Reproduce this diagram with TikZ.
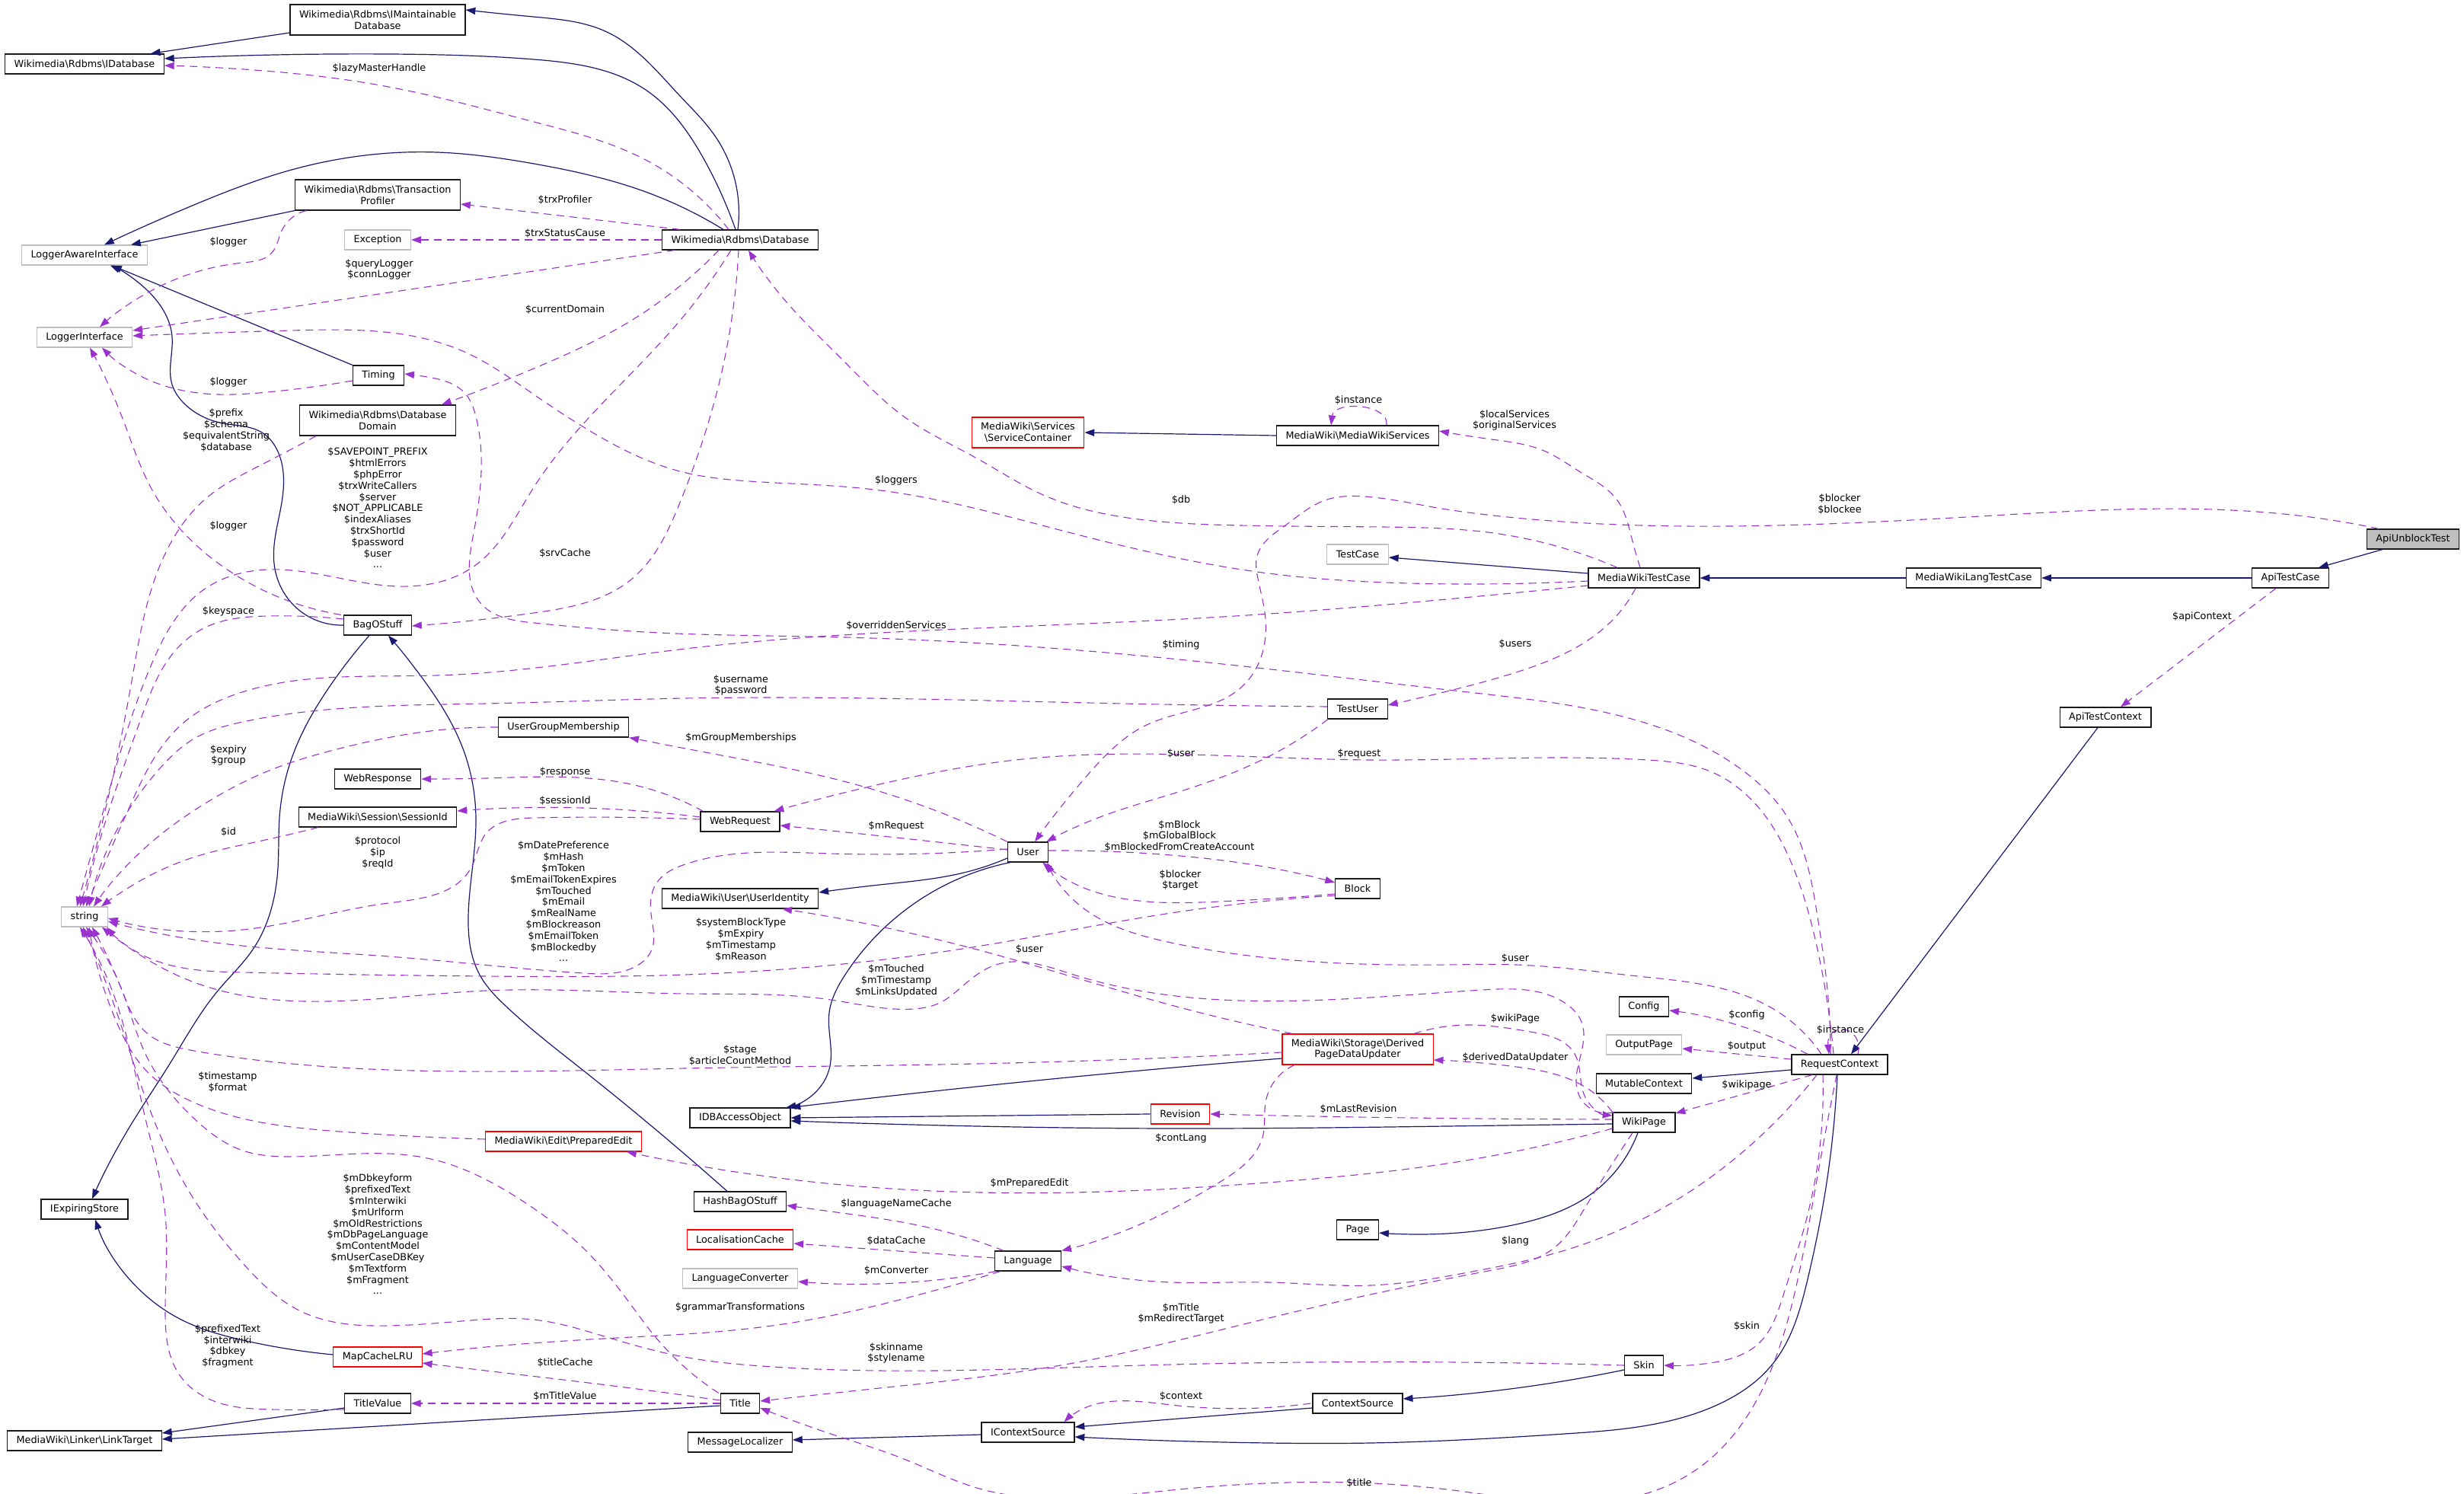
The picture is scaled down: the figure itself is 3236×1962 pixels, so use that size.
\documentclass[tikz,border=0pt]{standalone}
\usepackage{fontspec}
\setmainfont{DejaVu Sans}
\usetikzlibrary{arrows.meta,hobby}
\definecolor{inhc}{HTML}{191970}
\definecolor{depc}{HTML}{9A32CD}
\definecolor{grayb}{HTML}{BFBFBF}
\definecolor{bord}{HTML}{1A1A1A}
\newcommand\bsl{\textbackslash}
\begin{document}
\begin{tikzpicture}[x=0.5pt,y=-0.5pt,
  every node/.style={font=\fontsize{6.4}{7.4}\selectfont},
  cls/.style={draw=bord,line width=0.6pt,fill=white,rectangle,minimum height=13pt,inner xsep=6pt,inner ysep=0pt,align=center},
  cls2/.style={cls,minimum height=20pt},
  ext/.style={draw=grayb},
  trunc/.style={draw=red},
  lbl/.style={inner sep=0pt,align=center},
  inh/.style={draw=inhc,line width=0.6pt,-{Triangle[length=6.4pt,width=4.6pt]}},
  dep/.style={draw=depc,line width=0.55pt,dash pattern=on 5pt off 3.5pt,-{Triangle[length=6.4pt,width=4.6pt]}},
]
\useasboundingbox (0,0) rectangle (3236,1962);

% ---------------- nodes
\node[cls2] (imd) at (496,26) {Wikimedia\bsl Rdbms\bsl IMaintainable\\Database};
\node[cls] (idb) at (111,84) {Wikimedia\bsl Rdbms\bsl IDatabase};
\node[cls2] (tp) at (496,256) {Wikimedia\bsl Rdbms\bsl Transaction\\Profiler};
\node[cls,ext] (lai) at (111,335) {LoggerAwareInterface};
\node[cls,ext] (exc) at (496,315) {Exception};
\node[cls] (db) at (972,315) {Wikimedia\bsl Rdbms\bsl Database};
\node[cls,ext] (li) at (111,443) {LoggerInterface};
\node[cls] (timing) at (497,493) {Timing};
\node[cls2] (dd) at (496,552) {Wikimedia\bsl Rdbms\bsl Database\\Domain};
\node[cls] (bag) at (496,821) {BagOStuff};
\node[cls] (ugm) at (740,955) {UserGroupMembership};
\node[cls] (wresp) at (496,1023) {WebResponse};
\node[cls] (sid) at (496,1073) {MediaWiki\bsl Session\bsl SessionId};
\node[cls] (wreq) at (972,1079) {WebRequest};
\node[cls,ext] (str) at (111,1204) {string};
\node[cls] (uid) at (972,1180) {MediaWiki\bsl User\bsl UserIdentity};
\node[cls] (idbao) at (972,1468) {IDBAccessObject};
\node[cls,trunc] (pe) at (740,1499) {MediaWiki\bsl Edit\bsl PreparedEdit};
\node[cls] (hbag) at (972,1578) {HashBagOStuff};
\node[cls] (ies) at (111,1588) {IExpiringStore};
\node[cls,trunc] (lc) at (972,1628) {LocalisationCache};
\node[cls,ext] (lconv) at (972,1679) {LanguageConverter};
\node[cls,trunc] (mclru) at (496,1782) {MapCacheLRU};
\node[cls] (tv) at (496,1843) {TitleValue};
\node[cls] (title) at (972,1843) {Title};
\node[cls] (lt) at (111,1892) {MediaWiki\bsl Linker\bsl LinkTarget};
\node[cls] (ml) at (972,1894) {MessageLocalizer};
\node[cls2,trunc] (sc) at (1350,568) {MediaWiki\bsl Services\\\bsl ServiceContainer};
\node[cls] (mws) at (1783,572) {MediaWiki\bsl MediaWikiServices};
\node[cls,ext] (tc) at (1783,728) {TestCase};
\node[cls] (tu) at (1783,931) {TestUser};
\node[cls] (user) at (1350,1119) {User};
\node[cls] (block) at (1783,1167) {Block};
\node[cls2,trunc] (dpdu) at (1783,1378) {MediaWiki\bsl Storage\bsl Derived\\PageDataUpdater};
\node[cls,trunc] (rev) at (1550,1463) {Revision};
\node[cls] (page) at (1783,1615) {Page};
\node[cls] (lang) at (1350,1656) {Language};
\node[cls] (cs) at (1783,1843) {ContextSource};
\node[cls] (ics) at (1350,1881) {IContextSource};
\node[cls] (mwtc) at (2159,759) {MediaWikiTestCase};
\node[cls] (mwltc) at (2592,759) {MediaWikiLangTestCase};
\node[cls] (atctx) at (2765,942) {ApiTestContext};
\node[cls] (config) at (2159,1322) {Config};
\node[cls,ext] (op) at (2159,1372) {OutputPage};
\node[cls] (rc) at (2416,1398) {RequestContext};
\node[cls] (mc) at (2159,1423) {MutableContext};
\node[cls] (wp) at (2159,1474) {WikiPage};
\node[cls] (skin) at (2159,1793) {Skin};
\node[cls,fill=grayb] (aut) at (3169,708) {ApiUnblockTest};
\node[cls] (atc) at (3008,759) {ApiTestCase};

% ---------------- inheritance edges
\draw[inh] ([shift={(-3,0)}]db.north) to[curve through={(940,180) .. (893,126) .. (797,42) .. (700,22)}] ([shift={(0,-13)}]imd.east);
\draw[inh] ([shift={(0,17)}]imd.west) -- ([shift={(-18,0)}]idb.north east);
\draw[inh] ([shift={(-6,0)}]db.north) to[curve through={(925,210) .. (848,118) .. (701,78) .. (510,71)}] ([shift={(0,-7)}]idb.east);
\draw[inh] ([shift={(-22,0)}]db.north) to[curve through={(848,252) .. (701,215) .. (574,200) .. (383,223) .. (255,269)}] ([shift={(26,0)}]lai.north);
\draw[inh] (tp.south west) -- ([shift={(61,0)}]lai.north);
\draw[inh] (timing.north west) -- ([shift={(36,0)}]lai.south);
\draw[inh] (bag.west) to[curve through={(383,792) .. (360,740) .. (370,660) .. (367,598) .. (344,568) .. (293,556) .. (242,530) .. (226,505) .. (226,442) .. (191,379)}] ([shift={(34,0)}]lai.south);
\draw[inh] ([shift={(-11,0)}]bag.south) to[curve through={(434,900) .. (383,996) .. (367,1074) .. (365,1140) .. (332,1247) .. (287,1300) .. (223,1397) .. (172,1477)}] ([shift={(10,0)}]ies.north);
\draw[inh] ([shift={(-17,0)}]hbag.north) to[curve through={(765,1405) .. (663,1320) .. (631,1282) .. (615,1204) .. (625,1074) .. (606,978) .. (555,891)}] ([shift={(14,0)}]bag.south);
\draw[inh] ([shift={(0,-3)}]mclru.west) to[curve through={(319,1760) .. (242,1735) .. (191,1701)}] ([shift={(14,0)}]ies.south);
\draw[inh] ([shift={(0,6)}]tv.west) -- ([shift={(0,-10)}]lt.east);
\draw[inh] ([shift={(0,3)}]title.west) -- ([shift={(0,-2)}]lt.east);
\draw[inh] ([shift={(0,8)}]user.west) to[curve through={(1270,1145) .. (1155,1162)}] ([shift={(0,-8)}]uid.east);
\draw[inh] ([shift={(4,0)}]user.south west) to[curve through={(1110,1280) .. (1089,1330) .. (1090,1400) .. (1066,1439)}] ([shift={(-6,0)}]idbao.north east);
\draw[inh] ([shift={(0,12)}]dpdu.west) to[curve through={(1283,1427)}] (idbao.north east);
\draw[inh] (rev.west) -- (idbao.east);
\draw[inh] ([shift={(0,2)}]wp.west) to[curve through={(1900,1479) .. (1538,1482) .. (1283,1479)}] ([shift={(0,4)}]idbao.east);
\draw[inh] ([shift={(-8,0)}]wp.south) to[curve through={(2087,1570) .. (1991,1608) .. (1864,1621)}] ([shift={(0,4)}]page.east);
\draw[inh] ([shift={(0,6)}]cs.west) -- ([shift={(0,-7)}]ics.east);
\draw[inh] ([shift={(0,3)}]ics.west) -- ([shift={(0,-3)}]ml.east);
\draw[inh] ([shift={(-3,0)}]rc.south) to[curve through={(2399,1553) .. (2374,1680) .. (2329,1790) .. (2246,1849) .. (2055,1883) .. (1800,1895) .. (1665,1895)}] ([shift={(0,6)}]ics.east);
\draw[inh] ([shift={(0,6)}]skin.west) to[curve through={(1991,1823)}] ([shift={(0,-6)}]cs.east);
\draw[inh] ([shift={(0,7)}]rc.west) -- ([shift={(0,-7)}]mc.east);
\draw[inh] ([shift={(-10,0)}]atctx.south) -- ([shift={(15,0)}]rc.north);
\draw[inh] ([shift={(0,-6)}]mwtc.west) -- ([shift={(0,4)}]tc.east);
\draw[inh] (mwltc.west) -- (mwtc.east);
\draw[inh] (atc.west) -- (mwltc.east);
\draw[inh] ([shift={(-40,0)}]aut.south) -- ([shift={(37,0)}]atc.north);
\draw[inh] (mws.west) -- (sc.east);

% ---------------- usage edges
\draw[dep] ([shift={(-15,0)}]db.north) to[curve through={(848,210) .. (701,160) .. (510,114) .. (320,91)}] ([shift={(0,2)}]idb.east);
\draw[dep] ([shift={(-79,0)}]db.north) -- ([shift={(0,12)}]tp.east);
\draw[dep] (db.west) -- (exc.east);
\draw[dep] ([shift={(-86,0)}]db.south) -- ([shift={(0,-9)}]li.east);
\draw[dep] ([shift={(15,0)}]tp.south west) to[curve through={(370,303) .. (357,332) .. (319,345) .. (255,358) .. (204,379)}] ([shift={(20,0)}]li.north);
\draw[dep] ([shift={(0,7)}]timing.west) to[curve through={(351,515) .. (287,518) .. (191,497)}] ([shift={(23,0)}]li.south);
\draw[dep] ([shift={(-28,0)}]db.south) to[curve through={(829,421) .. (701,484)}] ([shift={(84,0)}]dd.north);
\draw[dep] ([shift={(-12,0)}]db.south) to[curve through={(893,421) .. (701,640) .. (622,744) .. (523,770) .. (351,748) .. (268,774) .. (200,870) .. (140,1050)}] ([shift={(-10,0)}]str.north);
\draw[dep] ([shift={(-3,0)}]bag.north west) to[curve through={(306,753) .. (198,640) .. (160,547)}] ([shift={(7,0)}]li.south);
\draw[dep] ([shift={(-81,0)}]dd.south) to[curve through={(344,610) .. (270,655) .. (217,727) .. (172,900)}] ([shift={(-6,0)}]str.north);
\draw[dep] ([shift={(-2,0)}]db.south) to[curve through={(944,505) .. (893,660) .. (829,761) .. (701,805)}] ([shift={(0,1)}]bag.east);
\draw[dep] ([shift={(0,-8)}]bag.west) to[curve through={(351,809) .. (274,822) .. (236,848) .. (185,944) .. (140,1074)}] ([shift={(-2,0)}]str.north);
\draw[dep] ([shift={(0,10)}]mwtc.west) to[curve through={(1900,787) .. (1606,810) .. (1283,825) .. (900,852) .. (574,887) .. (306,913) .. (240,950) .. (170,1060)}] ([shift={(2,0)}]str.north);
\draw[dep] ([shift={(0,4)}]mwtc.west) to[curve through={(1851,766) .. (1666,753) .. (1407,700) .. (1148,643) .. (1000,633) .. (893,619) .. (765,560) .. (701,518) .. (612,463) .. (383,434)}] ([shift={(0,-2)}]li.east);
\draw[dep] ([shift={(-35,0)}]mwtc.north) to[curve through={(1961,700) .. (1814,692) .. (1629,690) .. (1481,680) .. (1370,650) .. (1283,602) .. (1187,547) .. (1110,476) .. (1028,391)}] ([shift={(11,0)}]db.south);
\draw[dep] ([shift={(-5,0)}]mwtc.north) to[curve through={(2143,707) .. (2124,657) .. (2074,619) .. (2030,593) .. (1959,577)}] ([shift={(0,-6)}]mws.east);
\draw[dep] ([shift={(-11,0)}]mwtc.south) to[curve through={(2119,813) .. (2074,848) .. (1991,883) .. (1896,909)}] ([shift={(0,-5)}]tu.east);
\draw[dep] ([shift={(0,-3)}]tu.west) to[curve through={(1474,924) .. (900,917) .. (638,924) .. (319,948) .. (255,970) .. (210,1009)}] ([shift={(6,0)}]str.north);
\draw[dep] (ugm.west) to[curve through={(574,959) .. (446,983) .. (351,1013) .. (268,1056) .. (191,1113)}] ([shift={(12,0)}]str.north);
\draw[dep] ([shift={(-78,0)}]sid.south) to[curve through={(344,1104) .. (242,1130) .. (170,1165)}] ([shift={(22,0)}]str.north);
\draw[dep] ([shift={(0,-3)}]wreq.west) to[curve through={(702,1074) .. (638,1095) .. (619,1139) .. (510,1186) .. (319,1221)}] ([shift={(0,2)}]str.east);
\draw[dep] ([shift={(0,-4)}]user.west) to[curve through={(1091,1121) .. (900,1135) .. (862,1160) .. (855,1200) .. (856,1247) .. (829,1272) .. (765,1278) .. (510,1256) .. (255,1234)}] ([shift={(0,6)}]str.east);
\draw[dep] ([shift={(0,9)}]block.west) to[curve through={(1538,1199) .. (1283,1243) .. (1028,1273) .. (900,1280) .. (638,1282) .. (319,1277) .. (191,1256)}] ([shift={(-2,0)}]str.south east);
\draw[dep] ([shift={(3,0)}]wp.north west) to[curve through={(2074,1439) .. (2077,1342) .. (2055,1317) .. (1947,1300) .. (1410,1280) .. (1308,1267) .. (1270,1290) .. (1232,1318) .. (1200,1325) .. (1091,1313) .. (900,1305) .. (638,1301) .. (255,1290) .. (170,1245)}] ([shift={(-8,0)}]str.south east);
\draw[dep] ([shift={(0,4)}]dpdu.west) to[curve through={(1283,1397) .. (900,1403) .. (510,1405) .. (255,1380) .. (191,1355) .. (160,1300)}] ([shift={(10,0)}]str.south);
\draw[dep] ([shift={(0,-3)}]pe.west) to[curve through={(446,1486) .. (255,1448) .. (191,1405) .. (153,1342)}] ([shift={(6,0)}]str.south);
\draw[dep] ([shift={(-2,0)}]title.north west) to[curve through={(861,1756) .. (829,1714) .. (765,1638) .. (701,1587) .. (638,1549) .. (574,1524) .. (510,1515) .. (383,1519) .. (319,1511) .. (255,1469) .. (191,1384) .. (160,1300)}] ([shift={(2,0)}]str.south);
\draw[dep] (skin.west) to[curve through={(1500,1793) .. (1000,1794) .. (893,1781) .. (797,1756) .. (701,1733) .. (606,1735) .. (510,1741) .. (395,1722) .. (319,1659) .. (268,1595) .. (210,1490) .. (150,1320)}] ([shift={(-2,0)}]str.south);
\draw[dep] ([shift={(0,8)}]tv.west) to[curve through={(357,1851) .. (281,1840) .. (236,1806) .. (217,1722) .. (217,1595) .. (191,1469) .. (147,1300)}] ([shift={(-6,0)}]str.south);
\draw[dep] ([shift={(-36,0)}]lang.south) to[curve through={(1219,1697) .. (1028,1739) .. (900,1752) .. (829,1756) .. (638,1769)}] ([shift={(0,-4)}]mclru.east);
\draw[dep] ([shift={(0,-4)}]title.west) to[curve through={(829,1823) .. (638,1800)}] ([shift={(0,8)}]mclru.east);
\draw[dep] (title.west) -- (tv.east);
\draw[dep] ([shift={(-4,0)}]rc.south) to[curve through={(2393,1511) .. (2361,1680) .. (2323,1806) .. (2246,1916) .. (2183,1954) .. (1900,1956) .. (1538,1957) .. (1283,1954) .. (1187,1916) .. (1091,1883)}] ([shift={(0,6)}]title.east);
\draw[dep] ([shift={(-15,0)}]wp.south) to[curve through={(2110,1540) .. (2081,1587) .. (2042,1638) .. (1960,1668) .. (1800,1700) .. (1601,1747) .. (1410,1790) .. (1155,1823)}] ([shift={(0,-3)}]title.east);
\draw[dep] ([shift={(0,8)}]wp.west) to[curve through={(1900,1528) .. (1665,1553) .. (1410,1566) .. (1155,1560) .. (900,1528)}] ([shift={(83,0)}]pe.south);
\draw[dep] ([shift={(-83,0)}]dpdu.south) to[curve through={(1662,1448) .. (1659,1490) .. (1601,1553) .. (1506,1604)}] (lang.north east);
\draw[dep] ([shift={(-32,0)}]lang.north) to[curve through={(1219,1612) .. (1091,1591)}] ([shift={(0,5)}]hbag.east);
\draw[dep] ([shift={(0,-4)}]lang.west) -- ([shift={(0,5)}]lc.east);
\draw[dep] ([shift={(2,0)}]lang.south west) to[curve through={(1219,1682)}] ([shift={(0,4)}]lconv.east);
\draw[dep] ([shift={(-36,0)}]rc.south) -- ([shift={(0,-12)}]wp.east);
\draw[dep] ([shift={(0,-7)}]rc.west) -- ([shift={(0,5)}]op.east);
\draw[dep] ([shift={(-42,0)}]rc.north) to[curve through={(2297,1351)}] ([shift={(0,5)}]config.east);
\draw[dep] ([shift={(24,0)}]rc.north) .. controls (2448,1345) and (2398,1342) .. ([shift={(-14,0)}]rc.north);
\draw[dep] ([shift={(38,0)}]mws.north) .. controls (1825,530) and (1752,526) .. ([shift={(-35,0)}]mws.north);
\draw[dep] ([shift={(-45,0)}]aut.north) to[curve through={(3026,678) .. (2600,678) .. (1961,677) .. (1888,667) .. (1791,652) .. (1740,657) .. (1688,690) .. (1651,730) .. (1652,760) .. (1662,813) .. (1633,900) .. (1506,952) .. (1429,1017)}] ([shift={(9,0)}]user.north);
\draw[dep] ([shift={(-39,0)}]tu.south) to[curve through={(1653,1000) .. (1538,1043) .. (1442,1074)}] ([shift={(-3,0)}]user.north east);
\draw[dep] ([shift={(-8,0)}]rc.north) to[curve through={(2387,1247) .. (2355,1139) .. (2310,1061) .. (2246,1013) .. (2163,998) .. (1800,998) .. (1334,998) .. (1155,1030)}] ([shift={(-8,0)}]wreq.north east);
\draw[dep] ([shift={(-12,0)}]rc.north) to[curve through={(2400,1300) .. (2387,1204) .. (2348,1074) .. (2285,1009) .. (2106,935) .. (1928,909) .. (1538,865) .. (1110,837) .. (829,829) .. (701,818) .. (631,792) .. (622,700) .. (625,547) .. (612,518) .. (561,495)}] ([shift={(0,-2)}]timing.east);
\draw[dep] ([shift={(-24,0)}]rc.north) to[curve through={(2329,1325) .. (2151,1282) .. (1991,1267) .. (1900,1267) .. (1538,1238) .. (1410,1182)}] ([shift={(-2,0)}]user.south east);
\draw[dep] (user.north west) to[curve through={(1123,1030) .. (1000,1002) .. (900,983)}] (ugm.south east);
\draw[dep] ([shift={(0,-3)}]user.west) to[curve through={(1177,1100)}] ([shift={(0,5)}]wreq.east);
\draw[dep] ([shift={(4,0)}]wreq.north west) to[curve through={(829,1030) .. (638,1022)}] (wresp.east);
\draw[dep] ([shift={(0,-6)}]wreq.west) to[curve through={(765,1061)}] ([shift={(0,-8)}]sid.east);
\draw[dep] ([shift={(0,-2)}]user.east) to[curve through={(1538,1123) .. (1665,1139)}] ([shift={(0,-8)}]block.west);
\draw[dep] ([shift={(0,7)}]block.west) to[curve through={(1601,1184) .. (1474,1180) .. (1410,1160)}] ([shift={(-8,0)}]user.south east);
\draw[dep] ([shift={(-86,0)}]dpdu.north) to[curve through={(1538,1320) .. (1283,1247)}] ([shift={(-48,0)}]uid.south east);
\draw[dep] ([shift={(74,0)}]dpdu.north) to[curve through={(1928,1346) .. (2010,1355) .. (2068,1384) .. (2081,1439)}] ([shift={(0,-9)}]wp.west);
\draw[dep] (wp.north west) to[curve through={(2081,1427) .. (1991,1401)}] ([shift={(0,14)}]dpdu.east);
\draw[dep] ([shift={(0,-4)}]wp.west) to[curve through={(1784,1467)}] (rev.east);
\draw[dep] ([shift={(-22,0)}]rc.south) to[curve through={(2374,1595) .. (2342,1701) .. (2310,1764) .. (2246,1790)}] (skin.east);
\draw[dep] ([shift={(-30,0)}]rc.south) to[curve through={(2310,1494) .. (2183,1587) .. (2068,1638) .. (1928,1671) .. (1800,1688) .. (1665,1684) .. (1538,1684)}] ([shift={(0,7)}]lang.east);
\draw[dep] ([shift={(-2,0)}]cs.west) to[curve through={(1538,1845) .. (1410,1857)}] ([shift={(-14,0)}]ics.north east);
\draw[dep] ([shift={(-19,0)}]atc.south) -- ([shift={(20,0)}]atctx.north);

% ---------------- edge labels
\node[lbl] (l_lazy) at (498,90) {\$lazyMasterHandle};
\node[lbl] (l_trxp) at (742,263) {\$trxProfiler};
\node[lbl] (l_trxs) at (742,307) {\$trxStatusCause};
\node[lbl] (l_logtp) at (300,318) {\$logger};
\node[lbl] (l_qlog) at (498,354) {\$queryLogger\\\$connLogger};
\node[lbl] (l_curd) at (742,407) {\$currentDomain};
\node[lbl] (l_logtm) at (300,502) {\$logger};
\node[lbl] (l_prefix) at (297,565) {\$prefix\\\$schema\\\$equivalentString\\\$database};
\node[lbl] (l_savep) at (496,667) {\$SAVEPOINT\_PREFIX\\\$htmlErrors\\\$phpError\\\$trxWriteCallers\\\$server\\\$NOT\_APPLICABLE\\\$indexAliases\\\$trxShortId\\\$password\\\$user\\...};
\node[lbl] (l_logbag) at (300,691) {\$logger};
\node[lbl] (l_srvc) at (742,727) {\$srvCache};
\node[lbl] (l_keysp) at (300,803) {\$keyspace};
\node[lbl] (l_inst1) at (1784,526) {\$instance};
\node[lbl] (l_locs) at (1989,552) {\$localServices\\\$originalServices};
\node[lbl] (l_loggers) at (1177,631) {\$loggers};
\node[lbl] (l_db) at (1551,657) {\$db};
\node[lbl] (l_blkee) at (2416,662) {\$blocker\\\$blockee};
\node[lbl] (l_overr) at (1177,822) {\$overriddenServices};
\node[lbl] (l_timing) at (1551,847) {\$timing};
\node[lbl] (l_users) at (1990,846) {\$users};
\node[lbl] (l_unpw) at (973,900) {\$username\\\$password};
\node[lbl] (l_apic) at (2892,810) {\$apiContext};
\node[lbl] (l_mgm) at (973,969) {\$mGroupMemberships};
\node[lbl] (l_expg) at (300,992) {\$expiry\\\$group};
\node[lbl] (l_usertu) at (1551,990) {\$user};
\node[lbl] (l_req) at (1785,990) {\$request};
\node[lbl] (l_resp) at (742,1014) {\$response};
\node[lbl] (l_sess) at (742,1052) {\$sessionId};
\node[lbl] (l_id) at (300,1093) {\$id};
\node[lbl] (l_proto) at (496,1120) {\$protocol\\\$ip\\\$reqId};
\node[lbl] (l_mreq) at (1177,1085) {\$mRequest};
\node[lbl] (l_mdate) at (740,1184) {\$mDatePreference\\\$mHash\\\$mToken\\\$mEmailTokenExpires\\\$mTouched\\\$mEmail\\\$mRealName\\\$mBlockreason\\\$mEmailToken\\\$mBlockedby\\...};
\node[lbl] (l_mblock) at (1549,1098) {\$mBlock\\\$mGlobalBlock\\\$mBlockedFromCreateAccount};
\node[lbl] (l_btarget) at (1550,1156) {\$blocker\\\$target};
\node[lbl] (l_sysblk) at (973,1234) {\$systemBlockType\\\$mExpiry\\\$mTimestamp\\\$mReason};
\node[lbl] (l_userdp) at (1352,1247) {\$user};
\node[lbl] (l_userrc) at (1990,1259) {\$user};
\node[lbl] (l_mtouch) at (1177,1288) {\$mTouched\\\$mTimestamp\\\$mLinksUpdated};
\node[lbl] (l_conf) at (2294,1333) {\$config};
\node[lbl] (l_wikiP) at (1990,1338) {\$wikiPage};
\node[lbl] (l_inst2) at (2417,1353) {\$instance};
\node[lbl] (l_out) at (2294,1374) {\$output};
\node[lbl] (l_ddu) at (1990,1389) {\$derivedDataUpdater};
\node[lbl] (l_stage) at (972,1386) {\$stage\\\$articleCountMethod};
\node[lbl] (l_wikip) at (2294,1425) {\$wikipage};
\node[lbl] (l_tsfmt) at (299,1421) {\$timestamp\\\$format};
\node[lbl] (l_mlast) at (1784,1457) {\$mLastRevision};
\node[lbl] (l_contl) at (1551,1495) {\$contLang};
\node[lbl] (l_mprep) at (1352,1554) {\$mPreparedEdit};
\node[lbl] (l_lnc) at (1177,1581) {\$languageNameCache};
\node[lbl] (l_dcache) at (1177,1630) {\$dataCache};
\node[lbl] (l_mconv) at (1177,1669) {\$mConverter};
\node[lbl] (l_lang) at (1990,1630) {\$lang};
\node[lbl] (l_mdbk) at (496,1621) {\$mDbkeyform\\\$prefixedText\\\$mInterwiki\\\$mUrlform\\\$mOldRestrictions\\\$mDbPageLanguage\\\$mContentModel\\\$mUserCaseDBKey\\\$mTextform\\\$mFragment\\...};
\node[lbl] (l_gramm) at (972,1717) {\$grammarTransformations};
\node[lbl] (l_mtitle) at (1551,1725) {\$mTitle\\\$mRedirectTarget};
\node[lbl] (l_skinn) at (1177,1777) {\$skinname\\\$stylename};
\node[lbl] (l_skin) at (2294,1742) {\$skin};
\node[lbl] (l_pftxt) at (299,1768) {\$prefixedText\\\$interwiki\\\$dbkey\\\$fragment};
\node[lbl] (l_tcache) at (742,1790) {\$titleCache};
\node[lbl] (l_mtv) at (742,1834) {\$mTitleValue};
\node[lbl] (l_ctx) at (1551,1834) {\$context};
\node[lbl] (l_title) at (1785,1948) {\$title};
\end{tikzpicture}
\end{document}
